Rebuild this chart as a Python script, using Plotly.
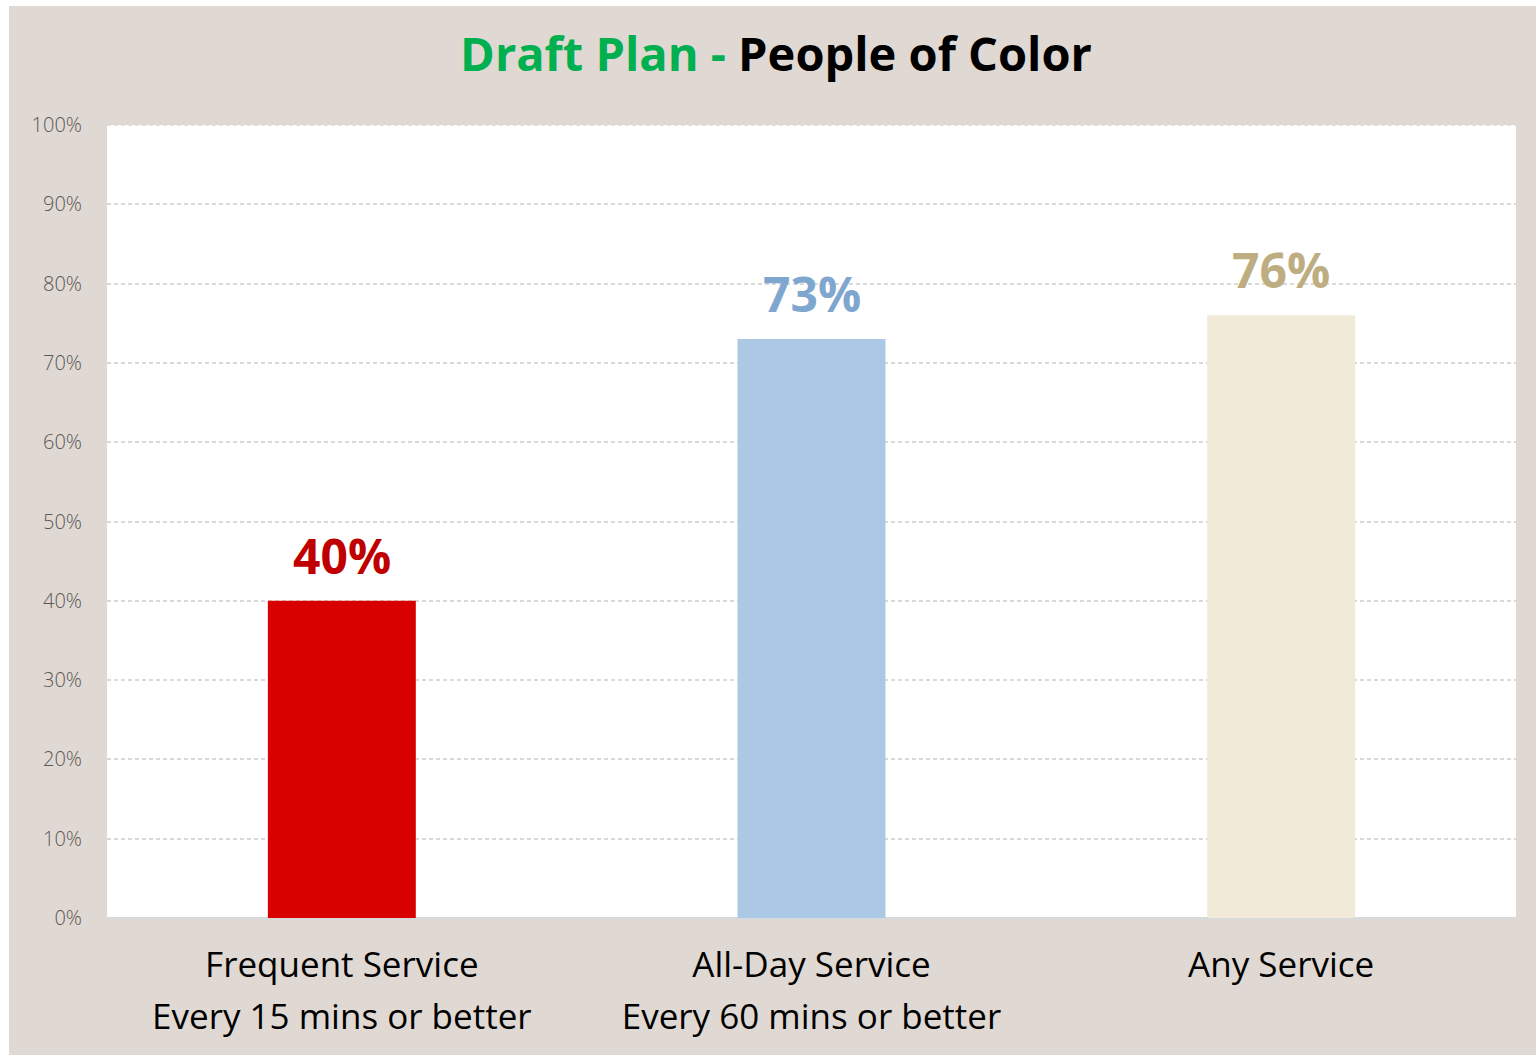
import plotly.graph_objects as go

# Share of people of color served, by service level
line1 = ["Frequent Service", "All-Day Service", "Any Service"]
line2 = ["Every 15 mins or better", "Every 60 mins or better", ""]
values = [40, 73, 76]
bar_colors = ["#d90000", "#abc8e4", "#f2ead9"]
label_colors = ["#c00000", "#7fa6cf", "#bead80"]
y_ticks = list(range(0, 101, 10))
y_ticktext = [f"{t}%" for t in y_ticks]

categories = [f"{a}|{b}" for a, b in zip(line1, line2)]
ticktext = [
    f"<span style='font-size:35px'>{a}</span><br><span style='font-size:35px'>{b}</span>"
    for a, b in zip(line1, line2)
]

FONT = "Open Sans"
BG = "#e0d8d2"
GRID = "#d9d9d9"

fig = go.Figure(
    go.Bar(
        x=categories,
        y=values,
        marker=dict(color=bar_colors, line=dict(width=0)),
        width=0.315,
        hoverinfo="skip",
    )
)

# value labels above each bar
for cat, v, c in zip(categories, values, label_colors):
    fig.add_annotation(
        x=cat, y=v, xref="x", yref="y",
        text=f"<b>{v}%</b>",
        showarrow=False,
        yanchor="bottom",
        yshift=11,
        font=dict(family=FONT, size=48, color=c, weight=600),
    )

# dashed gridline along the top of the plot area
fig.add_shape(type="line", xref="paper", yref="y", x0=0, x1=1, y0=100, y1=100,
              line=dict(color=GRID, width=1.5, dash="4px,3px"), layer="above")

# thin white frame on the top and left edges of the page
fig.add_shape(type="rect", xref="paper", yref="paper",
              x0=-0.09, x1=(9 - 107) / 1409, y0=-0.3, y1=1.3,
              fillcolor="white", line_width=0, layer="above")
fig.add_shape(type="rect", xref="paper", yref="paper",
              x0=-0.09, x1=1.1, y0=(918 - 6) / 793, y1=1.3,
              fillcolor="white", line_width=0, layer="above")

fig.update_layout(
    width=1536,
    height=1055,
    margin=dict(l=107, r=20, t=125, b=137),
    paper_bgcolor=BG,
    plot_bgcolor="white",
    showlegend=False,
    title=dict(
        text="<b><span style='color:#00b050'>Draft Plan - </span>"
             "<span style='color:#000000'>People of Color</span></b>",
        x=776 / 1536,
        xanchor="center",
        xref="container",
        y=1 - 38 / 1055,
        yanchor="top",
        yref="container",
        font=dict(family=FONT, size=47, weight=600),
    ),
    font=dict(family=FONT),
)

fig.update_xaxes(
    tickvals=categories,
    ticktext=ticktext,
    tickfont=dict(family=FONT, size=40, color="#000000"),
    showgrid=False,
    ticks="",
    showline=False,
    ticklabelstandoff=18,
)

fig.update_yaxes(
    range=[0, 100],
    tickvals=y_ticks,
    ticktext=y_ticktext,
    tickfont=dict(family=FONT, size=20, color="#595959", weight=300),
    showgrid=True,
    gridcolor=GRID,
    gridwidth=1.5,
    griddash="4px,3px",
    zeroline=True,
    zerolinecolor=GRID,
    zerolinewidth=2.5,
    ticks="",
    ticklabelstandoff=24,
    showline=False,
)

fig.write_html("out.html")
